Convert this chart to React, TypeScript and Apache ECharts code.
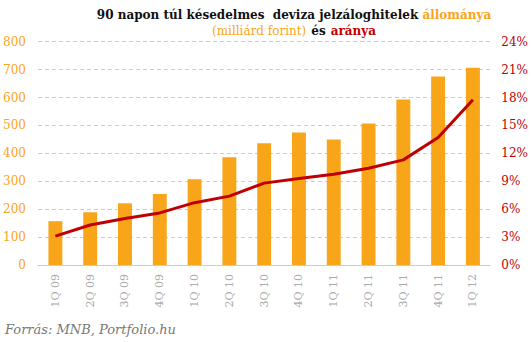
import React, { useEffect, useRef } from "react";
import * as echarts from "echarts";

const categories = ["1Q 09", "2Q 09", "3Q 09", "4Q 09", "1Q 10", "2Q 10", "3Q 10", "4Q 10", "1Q 11", "2Q 11", "3Q 11", "4Q 11", "1Q 12"];
const stockValues = [157, 189, 221, 254, 307, 386, 436, 475, 450, 507, 593, 675, 707];
const ratioValues = [3.1, 4.3, 5.0, 5.6, 6.7, 7.4, 8.8, 9.3, 9.75, 10.4, 11.3, 13.7, 17.75];
const leftTicks = { min: 0, max: 800, interval: 100 };
const rightTicks = { min: 0, max: 24, interval: 3 };

const ORANGE = "#f9a51a";
const RED = "#c00000";
const SERIF = "'DejaVu Serif', 'Liberation Serif', serif";

export default function App() {
  const ref = useRef<HTMLDivElement>(null);
  useEffect(() => {
    const chart = echarts.init(ref.current!, null, { renderer: "svg" });
    chart.setOption({
      animation: false,
      backgroundColor: "#ffffff",
      title: {
        text: "{b|90 napon túl késedelmes  deviza jelzáloghitelek }{o|állománya}\n{on|(milliárd forint)} {b|és} {r|aránya}",
        left: 289,
        top: 3,
        textAlign: "center",
        textStyle: {
          fontWeight: "normal",
          rich: {
            b: { fontFamily: SERIF, fontWeight: "bold", fontSize: 12, color: "#111", lineHeight: 14 },
            o: { fontFamily: SERIF, fontWeight: "bold", fontSize: 12, color: ORANGE, lineHeight: 14 },
            on: { fontFamily: SERIF, fontWeight: "normal", fontSize: 12, color: ORANGE, lineHeight: 14 },
            r: { fontFamily: SERIF, fontWeight: "bold", fontSize: 12, color: RED, lineHeight: 14 },
          },
        },
      },
      grid: { left: 38, right: 39, top: 41.7, bottom: 77, containLabel: false },
      xAxis: {
        type: "category",
        data: categories,
        axisLine: { show: true, lineStyle: { color: "#cccccc", width: 1 } },
        axisTick: { show: false },
        axisLabel: { rotate: 90, color: "#aaa", fontFamily: SERIF, fontSize: 11, margin: 9, interval: 0 },
      },
      yAxis: [
        {
          type: "value",
          ...leftTicks,
          axisLine: { show: false },
          axisTick: { show: false },
          axisLabel: { color: ORANGE, fontFamily: SERIF, fontSize: 12, margin: 12 },
          splitLine: { show: true, lineStyle: { color: "#cccccc", type: [4, 3], width: 1 } },
        },
        {
          type: "value",
          ...rightTicks,
          position: "right",
          axisLine: { show: false },
          axisTick: { show: false },
          axisLabel: { color: RED, fontFamily: SERIF, fontSize: 12, margin: 11, formatter: "{value}%" },
          splitLine: { show: false },
        },
      ],
      series: [
        {
          type: "bar",
          data: stockValues,
          yAxisIndex: 0,
          barWidth: "40%",
          itemStyle: { color: ORANGE },
        },
        {
          type: "line",
          data: ratioValues,
          yAxisIndex: 1,
          symbol: "none",
          lineStyle: { color: RED, width: 3 },
          z: 5,
        },
      ],
      graphic: [
        {
          type: "text",
          left: 5,
          top: 323,
          style: { text: "Forrás: MNB, Portfolio.hu", fill: "#777", font: "italic 13px " + SERIF },
        },
      ],
    });
    return () => chart.dispose();
  }, []);
  return <div ref={ref} style={{ position: "fixed", left: 0, top: 0, width: 531, height: 342 }} />;
}
